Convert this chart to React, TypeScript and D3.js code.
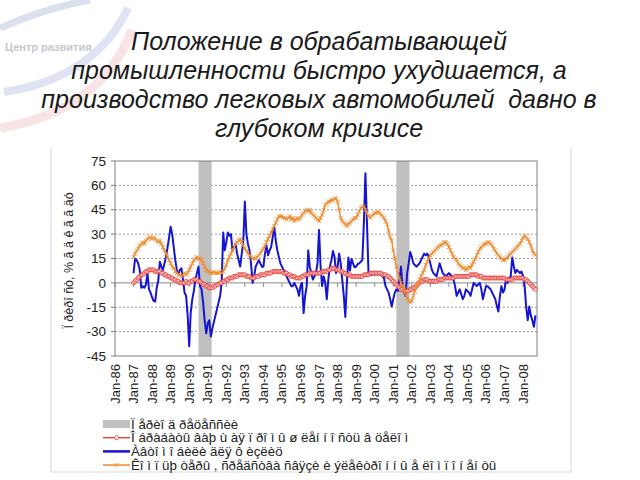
import React from "react";
import * as d3 from "d3";

const titleLines = [
  "Положение в обрабатывающей",
  "промышленности быстро ухудшается, а",
  "производство легковых автомобилей  давно в",
  "глубоком кризисе",
];

const logoText = "Центр развития";
const yAxisTitle = "Ï ðèðî ñò, % ã ä ê ã ã äó";

const firstYear = 1986;
const yearLabels = d3.range(1986, 2009).map((y) => "Jan-" + String(y % 100).padStart(2, "0"));
const yTicks = [75, 60, 45, 30, 15, 0, -15, -30, -45];
const totalMonths = 273;
const seriesStartMonth = 12; // Jan-87

const recessionStart = ["1990-07", "2001-03"];
const recessionEnd = ["1991-03", "2001-11"];

const legendLabels = [
  "Ï åðèî ä ðåöåññèè",
  "Î áðàáàòû âàþ ù àÿ ï ðî ì û ø ëåí í î ñòü â öåëî ì",
  "Àâòî ì î áèëè äëÿ ô èçëèö",
  "Êî ì ï üþ òåðû , ñðåäñòâà ñâÿçè è ýëåêòðî í í û å ëî ì ï î í åí òû",
];

const manufacturing = [
  0,1,2,3,4,5,5,6,7,7,8,8,
  8,8,7,7,7,7,6,6,5,5,4,4,
  3,3,2,2,1,1,0,0,0,0,1,0,
  0,1,1,2,2,2,1,1,0,-1,-1,-2,
  -2,-3,-3,-3,-2,-2,-1,-1,0,0,1,1,
  2,2,3,3,3,4,4,4,5,5,5,5,
  5,4,4,4,3,3,3,4,4,4,5,5,
  5,5,6,6,6,6,7,7,7,7,7,7,
  7,6,6,6,5,5,4,4,4,3,3,3,
  3,4,4,5,5,5,6,6,6,6,6,6,
  6,6,7,7,7,7,8,8,9,9,9,8,
  8,8,7,7,6,6,5,5,5,4,4,4,
  4,4,4,4,4,5,5,5,5,6,6,6,
  6,6,6,6,6,5,5,5,4,4,3,2,
  1,0,-1,-2,-3,-4,-4,-5,-5,-5,-5,-4,
  -4,-3,-3,-2,-1,0,1,1,2,2,2,1,
  1,1,1,1,1,2,2,2,2,3,3,3,
  3,3,3,3,4,4,4,4,4,4,4,4,
  4,4,5,5,5,5,5,4,4,4,3,3,
  3,3,3,3,3,3,3,3,3,3,3,3,
  3,2,2,2,2,2,3,3,3,3,3,3,
  3,2,2,1,0,-1,-2,-3,-4,
];

const cars = [
  6,15,14,12,8,-3,-2,-3,-1,6,-4,-6,
  -9,-11,-11.5,-3,1.5,13,10,8,12,16,22,28,
  34.6,30,22,14,8,5.7,8,9,2,-6,-8,-20,
  -39,-18,-10,-5,2,6,10,-2,-4,-12,-23,-31,
  -25,-23,-33,-28,-24,-20,-16,-12,-8,0,31,20,
  25,31,29,30,20,22,24,18,14,10,18,26,
  50,30,24,20,12,0,4,10,12,14,12,10,
  10,18,23,17,20,22,28,34.6,26,20,16,12,
  10,8,7,4,2,0,-2,-2,0,-2,-4,-8,
  -2,0,-18.6,-8,-2,20,10,6,2,4,6,12,
  32.6,10,-2,4,0,-10,2,10,14,19.6,16,6,
  10,18,12,2,-8,-21,0,15.6,7.6,14.8,12,9.6,
  10,11.6,12,13,14,37,67.5,37,6,5,5,6,
  5,6,5,6,5,4,3,-2,-4,-6,-10,-14.6,
  -10,-6,-4,-5,2,10,-2,-5,-8,6,12,19,
  16,12,11,10,11,12,14,16,18,17,18,16,
  12,8,6,5,4,8,12,9,6,5,4,5,
  6,5,4,2,-2,-8,-6,-4,-7,-10,-8,-4,
  -5,-6,-8,-4,0,-1,-2,-1,0,-4,-10,-6,
  -2,-2,-3,-4,-6,-8,-10,-14,-17.6,-8,-2,-6,
  -4,2,0,3,4,15.6,10,6,8,7,6,7,
  4,-2,-15,-23,-14.6,-20,-23,-27,-20,
];

const computers = [
  16,18,20,21,23,24,25,24,26,27,28,28,
  27,28,27,26,25,26,24,22,20,18,16,14,
  12,10,9,7,6,5,5,4,5,6,5,6,
  8,10,12,14,15,16,15,15,14,12,10,8,
  7,7,6,6,7,6,6,6,7,6,7,9,
  11,14,16,18,20,22,24,25,26,27,25,23,
  21,20,18,17,16,15,15,15,16,17,18,20,
  21,23,25,27,29,31,33,35,37,39,41,41,
  41,40,40,39,40,41,39,40,38,39,40,39,
  40,42,43,44,45,44,45,43,42,41,40,39,
  38,40,42,45,48,49,50,50,51,51,52,52,
  50,45,40,38,37,36,35,36,37,38,39,40,
  40,42,44,46,47,47,45,43,41,40,41,42,
  43,43,44,43,42,41,40,38,36,32,28,26,
  20,15,10,6,3,0,-2,-4,-7,-9,-11,-12,
  -11,-8,-5,-2,0,2,4,6,8,11,13,15,
  17,18,19,20,21,22,23,23,24,25,25,24,
  22,20,18,16,15,14,12,11,10,9,9,8,
  9,10,9,11,13,15,17,19,21,22,23,24,
  24,25,25,24,23,21,20,18,17,16,15,14,
  14,15,16,17,18,19,20,21,22,23,24,26,
  28,29,28,27,25,23,20,18,17,
];

const monthIndex = (s: string) => {
  const [y, m] = s.split("-").map(Number);
  return (y - firstYear) * 12 + (m - 1);
};

const W = 640, H = 480;
const plot = { left: 115, right: 537, top: 161, bottom: 356 };

const x = d3.scaleLinear().domain([0, totalMonths]).range([plot.left, plot.right]);
const y = d3.scaleLinear().domain([-45, 75]).range([plot.bottom, plot.top]);

const toPts = (arr: number[]) => arr.map((v, i) => [seriesStartMonth + i, v] as [number, number]);
const lineGen = d3.line<[number, number]>().x((d) => x(d[0])).y((d) => y(d[1]));

const RED = "#E8322C";
const BLUE = "#1414D2";
const ORANGE = "#F28A2E";
const FONT = "'Liberation Sans', Arial, sans-serif";

export default function App() {
  const redPts = toPts(manufacturing);
  const bluePts = toPts(cars);
  const orangePts = toPts(computers);
  const legendY = [424, 437.7, 451.4, 465];
  return (
    <svg width={W} height={H} style={{ position: "absolute", left: 0, top: 0, background: "#fff" }} fontFamily={FONT}>
      {/* logo swooshes */}
      <g opacity={0.4} fill="none">
        <path d="M0,28 Q45,8 90,0" stroke="#A8B4D8" strokeWidth={7} />
        <path d="M4,92 Q95,78 128,8" stroke="#8E9ED6" strokeWidth={8} opacity={0.7} />
        <path d="M0,128 Q100,112 132,30" stroke="#E9A0A0" strokeWidth={9} opacity={0.7} />
      </g>
      <text x={5} y={51} fontSize={11} fontWeight="bold" fill="#C2C8D2">{logoText}</text>

      {/* title */}
      {titleLines.map((t, i) => (
        <text key={i} x={319} y={50 + i * 29} textAnchor="middle" fontSize={25} fontStyle="italic" fill="#1a1a1a" style={{ whiteSpace: "pre" }}>{t}</text>
      ))}

      {/* chart frame */}
      <path d="M51,147 V472 H571 V147" fill="none" stroke="#D8D8D8" strokeWidth={1} />

      {/* gridlines */}
      {yTicks.filter((t) => t !== 75 && t !== -45 && t !== 0).map((t) => (
        <line key={t} x1={plot.left} x2={plot.right} y1={y(t)} y2={y(t)} stroke="#9A9A9A" strokeWidth={1} strokeDasharray="2,2" />
      ))}

      {/* recession bands */}
      {recessionStart.map((s, i) => (
        <rect key={s} x={x(monthIndex(s))} y={plot.top} width={x(monthIndex(recessionEnd[i]) + 0.5) - x(monthIndex(s))} height={plot.bottom - plot.top} fill="#C0C0C0" />
      ))}

      {/* zero axis with ticks */}
      <line x1={plot.left} x2={plot.right} y1={y(0)} y2={y(0)} stroke="#8A8A8A" strokeWidth={1} />
      {yearLabels.map((_, i) => (
        <line key={i} x1={x(i * 12)} x2={x(i * 12)} y1={y(0)} y2={y(0) + 4} stroke="#8A8A8A" />
      ))}

      {/* plot border */}
      <rect x={plot.left} y={plot.top} width={plot.right - plot.left} height={plot.bottom - plot.top} fill="none" stroke="#808080" strokeWidth={1} />

      {/* y axis ticks & labels */}
      {yTicks.map((t) => (
        <g key={t}>
          <line x1={plot.left - 4} x2={plot.left} y1={y(t)} y2={y(t)} stroke="#808080" />
          <text x={106} y={y(t)} dy="0.35em" textAnchor="end" fontSize={13.5} fill="#222">{t}</text>
        </g>
      ))}
      <text transform={`translate(73,${(plot.top + plot.bottom) / 2 + 2}) rotate(-90)`} textAnchor="middle" fontSize={12.5} fill="#222">{yAxisTitle}</text>

      {/* x labels */}
      {yearLabels.map((lab, i) => (
        <text key={lab} transform={`translate(${x(i * 12) + 4.5},364) rotate(-90)`} textAnchor="end" fontSize={13} fill="#222">{lab}</text>
      ))}

      {/* series */}
      <path d={lineGen(bluePts) || ""} fill="none" stroke={BLUE} strokeWidth={2} strokeLinejoin="round" />
      <path d={lineGen(redPts) || ""} fill="none" stroke={RED} strokeWidth={1.3} />
      {redPts.map((d, i) => (
        <circle key={i} cx={x(d[0])} cy={y(d[1])} r={2} fill="#fff" fillOpacity={0.6} stroke={RED} strokeWidth={0.8} />
      ))}
      <path d={lineGen(orangePts) || ""} fill="none" stroke={ORANGE} strokeWidth={1.5} />
      {orangePts.map((d, i) => {
        const cx = x(d[0]), cy = y(d[1]);
        return (
          <path key={i} d={`M${cx - 2},${cy - 2}L${cx + 2},${cy + 2}M${cx - 2},${cy + 2}L${cx + 2},${cy - 2}`} stroke={ORANGE} strokeWidth={0.9} />
        );
      })}

      {/* legend */}
      <rect x={103} y={legendY[0] - 4} width={27} height={8} fill="#C0C0C0" />
      <line x1={103} x2={130} y1={legendY[1]} y2={legendY[1]} stroke={RED} strokeWidth={1.3} />
      <circle cx={116.5} cy={legendY[1]} r={2} fill="#fff" stroke={RED} strokeWidth={0.8} />
      <line x1={103} x2={130} y1={legendY[2]} y2={legendY[2]} stroke={BLUE} strokeWidth={2.5} />
      <line x1={103} x2={130} y1={legendY[3]} y2={legendY[3]} stroke={ORANGE} strokeWidth={1.5} />
      <path d={`M114.5,${legendY[3] - 2}L118.5,${legendY[3] + 2}M114.5,${legendY[3] + 2}L118.5,${legendY[3] - 2}`} stroke={ORANGE} strokeWidth={0.9} />
      {legendLabels.map((l, i) => (
        <text key={i} x={131} y={legendY[i]} dy="0.35em" fontSize={13.3} fill="#222">{l}</text>
      ))}
    </svg>
  );
}
